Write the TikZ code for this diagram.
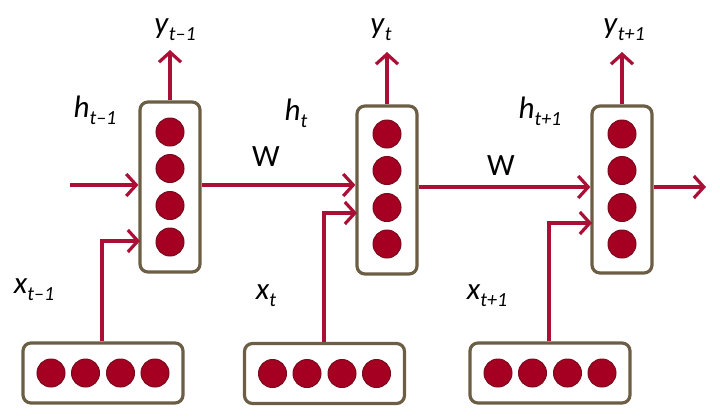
\documentclass[tikz,border=0pt]{standalone}
\usepackage{fontspec}
\setmainfont{Carlito}
\usetikzlibrary{arrows.meta}
\definecolor{arr}{HTML}{AA0F36}
\definecolor{dot}{HTML}{A50021}
\definecolor{dotline}{HTML}{7A0A1E}
\definecolor{boxc}{HTML}{6B5E44}
\newcommand\lbl[2]{\textit{#1}\raisebox{-7pt}{\fontsize{20}{20}\selectfont\textit{#2}}}
\begin{document}
\begin{tikzpicture}[x=1pt,y=-1pt,
  cell/.style={draw=boxc,line width=3.2pt,rounded corners=8pt,minimum width=60pt,inner sep=0pt},
  inbox/.style={draw=boxc,line width=3.2pt,rounded corners=8pt,minimum width=160pt,minimum height=60pt,inner sep=0pt},
  unit/.style={circle,fill=dot,draw=dotline,line width=1pt,minimum size=28pt,inner sep=0pt},
  conn/.style={draw=arr,line width=3.2pt,-{Straight Barb[length=10pt,width=22pt,line width=3.2pt]}},
  lab/.style={font=\fontsize{31}{31}\selectfont,inner sep=0pt}]
\useasboundingbox (0,0) rectangle (720,418);
% hidden cells
\node[cell,minimum height=170pt] (h1) at (170,187) {};
\node[cell,minimum height=168pt] (h2) at (387,190) {};
\node[cell,minimum height=167pt] (h3) at (622,189.5) {};
\foreach \c/\cy in {h1/187,h2/189,h3/189}{
  \node[unit] (\c a) at (\c.center |- 0,\cy-55) {};
  \node[unit] (\c b) at (\c.center |- 0,\cy-18.5) {};
  \node[unit] (\c c) at (\c.center |- 0,\cy+18.5) {};
  \node[unit] (\c d) at (\c.center |- 0,\cy+55) {};
}
% input boxes
\node[inbox] (x1) at (103,373) {};
\node[inbox] (x2) at (324.5,373.5) {};
\node[inbox] (x3) at (550,373) {};
\foreach \c in {x1,x2,x3}{
  \node[unit] (\c a) at ([xshift=-52pt]\c.center) {};
  \node[unit] (\c b) at ([xshift=-17.5pt]\c.center) {};
  \node[unit] (\c c) at ([xshift=17.5pt]\c.center) {};
  \node[unit] (\c d) at ([xshift=52pt]\c.center) {};
}
% output tips
\coordinate (o1) at (170,50);
\coordinate (o2) at (387,52);
\coordinate (o3) at (622,52);
\draw[conn] (h1.north) -- (o1);
\draw[conn] (h2.north) -- (o2);
\draw[conn] (h3.north) -- (o3);
% recurrent connections
\coordinate (h0) at (70,185);
\coordinate (h4) at (706,187);
\draw[conn] (h0) -- (h0 -| h1.west);
\draw[conn] (h1.east |- 0,185) -- (h2.west |- 0,185);
\draw[conn] (h2.east |- 0,187) -- (h3.west |- 0,187);
\draw[conn] (h3.east |- 0,187) -- (h4);
% input connections
\coordinate (i1) at (140,241);
\coordinate (i2) at (357,213);
\coordinate (i3) at (592,223);
\draw[conn] ([xshift=-1pt]x1.north) |- (i1);
\draw[conn] ([xshift=-0.5pt]x2.north) |- (i2);
\draw[conn] ([xshift=-1pt]x3.north) |- (i3);
% labels
\node[lab] (ly1) at (175,30) {\lbl{y}{t–1}};
\node[lab] (ly2) at (381,30) {\lbl{y}{t}};
\node[lab] (ly3) at (624,30) {\lbl{y}{t+1}};
\node[lab] (lh1) at (95,110) {\lbl{h}{t–1}};
\node[lab] (lh2) at (296,113) {\lbl{h}{t}};
\node[lab] (lh3) at (540,111) {\lbl{h}{t+1}};
\node[lab] (lw1) at (266,157) {W};
\node[lab] (lw2) at (501,166) {W};
\node[lab] (lx1) at (34,290) {\lbl{x}{t–1}};
\node[lab] (lx2) at (266,296) {\lbl{x}{t}};
\node[lab] (lx3) at (487,296) {\lbl{x}{t+1}};
\end{tikzpicture}
\end{document}
